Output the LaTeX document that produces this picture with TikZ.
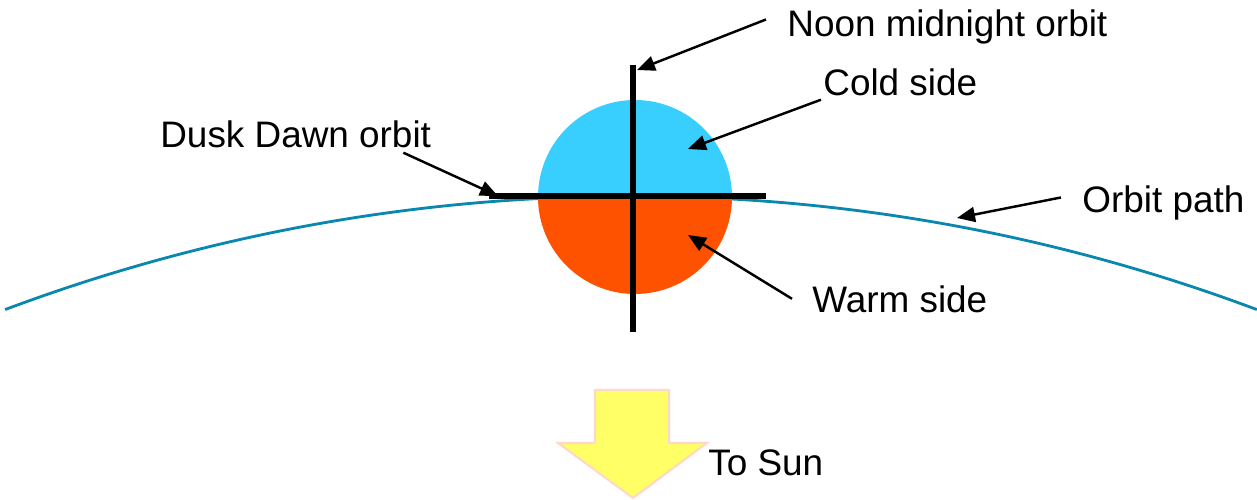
\documentclass[tikz,border=0pt]{standalone}
\usepackage{fontspec}
\setmainfont{Liberation Sans}
\usepackage{tikz}
\usetikzlibrary{arrows.meta}
\definecolor{coldblue}{RGB}{56,207,255}
\definecolor{warmorange}{RGB}{255,82,0}
\definecolor{orbitteal}{RGB}{10,135,175}
\definecolor{sunyellow}{RGB}{255,255,102}
\definecolor{sunrim}{RGB}{255,216,200}

\begin{document}
\begin{tikzpicture}[
  x=0.02cm, y=-0.02cm,
  pointer/.style={-{Triangle[length=0.36cm, width=0.3cm]}, line width=1.4pt},
  bar/.style={line width=3.4pt},
  caption/.style={font=\fontsize{21}{25}\selectfont, anchor=base west, inner sep=0pt},
]
  \useasboundingbox (0,0) rectangle (1257,500);

  % ---- Orbit path ----
  \draw[orbitteal, line width=1.6pt] (631,1979) ++(-110.55:1783)
    arc[start angle=-110.55, end angle=-69.45, radius=1783];

  % ---- Satellite ----
  \fill[coldblue] (538,197) arc[start angle=-180, end angle=0, radius=97] -- cycle;
  \fill[warmorange] (538,197) arc[start angle=180, end angle=0, radius=97] -- cycle;
  \draw[bar] (489,196) -- (766,196);                  % dusk dawn
  \draw[bar] (633,65) -- (633,332);                   % noon midnight

  % ---- Sun direction ----
  \draw[fill=sunyellow, draw=sunrim, line width=1.2pt]
    (595,390) -- (669,390) -- (669,443) -- (707,443) -- (633,498)
    -- (558,443) -- (595,443) -- cycle;

  % ---- Captions ----
  \node[caption] (noon)  at (787,37)  {Noon midnight orbit};
  \node[caption] (cold)  at (823,95)  {Cold side};
  \node[caption] (dusk)  at (160,147) {Dusk Dawn orbit};
  \node[caption] (orbit) at (1082,212) {Orbit path};
  \node[caption] (warm)  at (812,312) {Warm side};
  \node[caption] (sun)   at (708,475) {To Sun};

  % ---- Targets ----
  \coordinate (noontip)  at (637,70);
  \coordinate (coldtip)  at (688,149);
  \coordinate (dusktip)  at (498,196);
  \coordinate (warmtip)  at (688,235);
  \coordinate (orbittip) at (957,218);

  % ---- Arrows ----
  \draw[pointer] ([shift={(-21,-8)}]noon.west) -- (noontip);
  \draw[pointer] ([shift={(-2,4)}]cold.south west) -- (coldtip);
  \draw[pointer] ([shift={(-28,5)}]dusk.south east) -- (dusktip);
  \draw[pointer] ([shift={(-20,0)}]warm.west) -- (warmtip);
  \draw[pointer] ([shift={(-21,-5)}]orbit.west) -- (orbittip);
\end{tikzpicture}
\end{document}
